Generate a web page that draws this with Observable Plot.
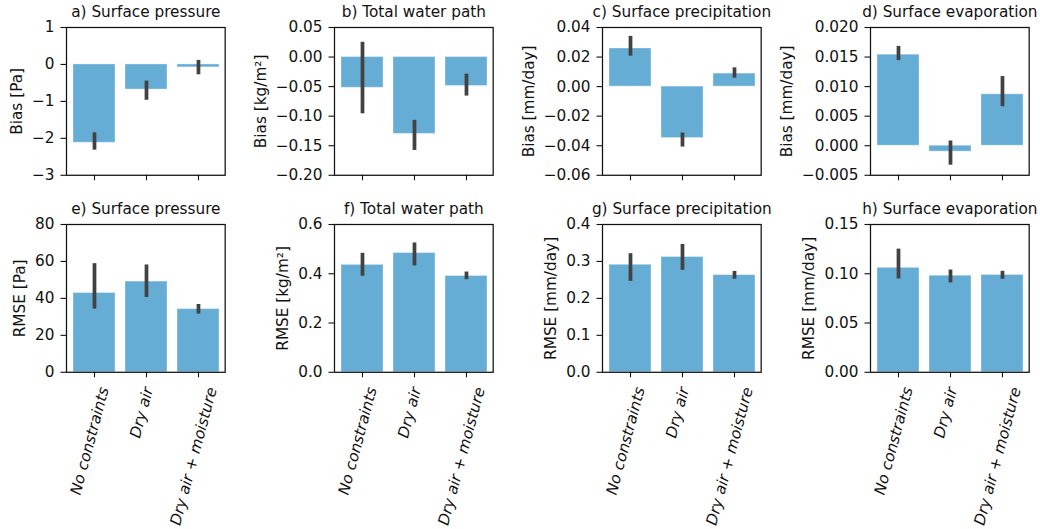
<!DOCTYPE html>
<html><head><meta charset="utf-8">
<script src="https://cdn.jsdelivr.net/npm/d3@7"></script>
<script src="https://cdn.jsdelivr.net/npm/@observablehq/plot@0.6"></script>
<style>
html,body{margin:0;padding:0;background:#fff;overflow:hidden}
#chart{position:relative;width:1040px;height:529px;overflow:hidden}
#chart svg{position:absolute}
</style>
</head><body><div id="chart"></div>
<script>
// ---------- data ----------
const categories = ["No constraints", "Dry air", "Dry air + moisture"];

const titles = ["a) Surface pressure", "b) Total water path", "c) Surface precipitation", "d) Surface evaporation",
                "e) Surface pressure", "f) Total water path", "g) Surface precipitation", "h) Surface evaporation"];
const yLabels = ["Bias [Pa]", "Bias [kg/m²]", "Bias [mm/day]", "Bias [mm/day]",
                 "RMSE [Pa]", "RMSE [kg/m²]", "RMSE [mm/day]", "RMSE [mm/day]"];

// Bias panels
const pressureBias     = [-2.12, -0.68, -0.08];
const pressureBiasLow  = [-2.32, -0.97, -0.28];
const pressureBiasHigh = [-1.85, -0.45, 0.11];

const twpBias     = [-0.052, -0.130, -0.049];
const twpBiasLow  = [-0.096, -0.158, -0.066];
const twpBiasHigh = [0.025, -0.107, -0.029];

const precipBias     = [0.0258, -0.0348, 0.0088];
const precipBiasLow  = [0.0206, -0.0409, 0.0057];
const precipBiasHigh = [0.0340, -0.0314, 0.0127];

const evapBias     = [0.0154, -0.0010, 0.0087];
const evapBiasLow  = [0.0144, -0.0033, 0.0066];
const evapBiasHigh = [0.0168, 0.0008, 0.0117];

// RMSE panels
const pressureRmse     = [42.9, 49.1, 34.2];
const pressureRmseLow  = [34.2, 40.5, 31.5];
const pressureRmseHigh = [58.8, 58.1, 36.7];

const twpRmse     = [0.436, 0.484, 0.391];
const twpRmseLow  = [0.390, 0.432, 0.376];
const twpRmseHigh = [0.483, 0.525, 0.407];

const precipRmse     = [0.291, 0.312, 0.263];
const precipRmseLow  = [0.246, 0.276, 0.252];
const precipRmseHigh = [0.321, 0.346, 0.273];

const evapRmse     = [0.106, 0.098, 0.0988];
const evapRmseLow  = [0.0947, 0.0907, 0.0944];
const evapRmseHigh = [0.125, 0.1038, 0.1025];

// tick values
const ticksA = [-3, -2, -1, 0, 1];
const ticksB = [-0.20, -0.15, -0.10, -0.05, 0.00, 0.05];
const ticksC = [-0.06, -0.04, -0.02, 0.00, 0.02, 0.04];
const ticksD = [-0.005, 0.000, 0.005, 0.010, 0.015, 0.020];
const ticksE = [0, 20, 40, 60, 80];
const ticksF = [0.0, 0.2, 0.4, 0.6];
const ticksG = [0.0, 0.1, 0.2, 0.3, 0.4];
const ticksH = [0.00, 0.05, 0.10, 0.15];
const tickFormats = ["d", ".2f", ".2f", ".3f", "d", ".1f", ".1f", ".2f"];

// ---------- layout ----------
const frameLefts = [65.8, 333.5, 601.6, 869.5];
const frameTops = [26.5, 223.6];
const FW = 158.7, FH = 147.8;
const ML = 95, MR = 20, MT = 30;
const FONT = "15.3px 'DejaVu Sans'";
const INK = "#111111";

const ctx = document.createElement("canvas").getContext("2d");
ctx.font = "italic " + FONT;
const measure = s => ctx.measureText(s).width;

const panels = [
  [pressureBias, pressureBiasLow, pressureBiasHigh, ticksA],
  [twpBias, twpBiasLow, twpBiasHigh, ticksB],
  [precipBias, precipBiasLow, precipBiasHigh, ticksC],
  [evapBias, evapBiasLow, evapBiasHigh, ticksD],
  [pressureRmse, pressureRmseLow, pressureRmseHigh, ticksE],
  [twpRmse, twpRmseLow, twpRmseHigh, ticksF],
  [precipRmse, precipRmseLow, precipRmseHigh, ticksG],
  [evapRmse, evapRmseLow, evapRmseHigh, ticksH]
];

const chart = document.getElementById("chart");

panels.forEach(([vals, lows, highs, ticks], k) => {
  const row = Math.floor(k / 4), col = k % 4;
  const MB = row === 0 ? 10 : 165;
  const data = categories.map((c, i) => ({cat: c, v: vals[i], lo: lows[i], hi: highs[i]}));
  const fmt = d3.format(tickFormats[k]);
  // widest tick label, to place the y label like matplotlib
  ctx.font = FONT;
  const wMax = d3.max(ticks, t => ctx.measureText(fmt(t)).width);
  ctx.font = "italic " + FONT;
  const labelOffset = 27 + wMax;

  const marks = [
    Plot.barY(data, {x: "cat", y: "v", fill: "#66add6", stroke: "#ffffff", strokeOpacity: 0.35, strokeWidth: 1}),
    Plot.ruleX(data, {x: "cat", y1: "lo", y2: "hi", stroke: "#424242", strokeWidth: 3.75}),
    Plot.frame({stroke: INK, strokeWidth: 1.25}),
    Plot.axisY(ticks, {tickSize: 5.5, tickPadding: 6.5, tickFormat: fmt, label: null, strokeWidth: 1.1}),
    Plot.axisX({tickSize: 5.5, tickFormat: () => "", label: null, strokeWidth: 1.1}),
    Plot.text([titles[k]], {text: d => d, frameAnchor: "top", lineAnchor: "bottom", dy: -10}),
    Plot.text([yLabels[k]], {text: d => d, frameAnchor: "left", textAnchor: "middle", rotate: -90, dx: -labelOffset})
  ];
  if (row === 1) {
    categories.forEach(c => {
      marks.push(Plot.text([c], {
        x: d => d, text: d => d, frameAnchor: "bottom", rotate: -75, textAnchor: "end",
        fontStyle: "italic", dy: 16.6, dx: 0.129 * measure(c)
      }));
    });
  }

  const svg = Plot.plot({
    width: ML + FW + MR,
    height: MT + FH + MB,
    marginLeft: ML, marginRight: MR, marginTop: MT, marginBottom: MB,
    style: `font: ${FONT}; background: transparent; overflow: visible; color: ${INK};`,
    x: {type: "band", domain: categories, paddingInner: 0.2, paddingOuter: 0.1, align: 0.5},
    y: {domain: [ticks[0], ticks[ticks.length - 1]]},
    marks
  });
  svg.style.left = (frameLefts[col] - ML) + "px";
  svg.style.top = (frameTops[row] - MT) + "px";
  chart.appendChild(svg);
});
</script>
</body></html>
